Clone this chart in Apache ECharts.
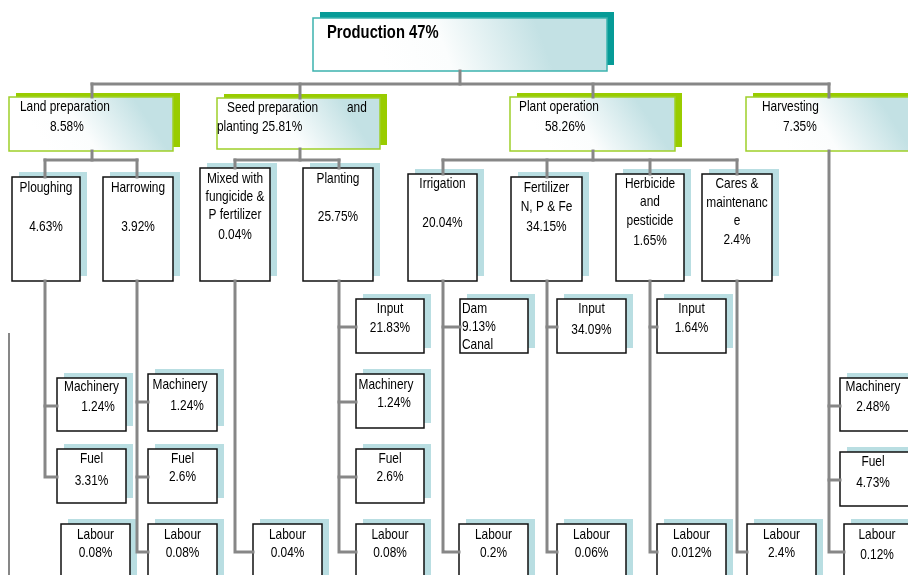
<!DOCTYPE html>
<html>
<head>
<meta charset="utf-8">
<script src="https://cdn.jsdelivr.net/npm/echarts@6/dist/echarts.min.js"></script>
<style>
  html, body { margin: 0; padding: 0; background: #fff; }
  #chart { width: 908px; height: 575px; }
</style>
</head>
<body>
<div id="chart"></div>
<script>
// tree: node ids, their parent, and the text lines shown in each box
const ids = ['prod', 'land', 'seed', 'plant', 'harv',
  'plough', 'harrow', 'mixed', 'planting', 'irrig', 'fert', 'herb', 'cares',
  'mach1', 'fuel1', 'lab1', 'mach2', 'fuel2', 'lab2', 'lab3',
  'input1', 'mach3', 'fuel3', 'lab4', 'dam', 'lab5', 'input2', 'lab6', 'input3', 'lab7', 'lab8',
  'mach4', 'fuel4', 'lab9']
// lab1 is not wired to anything in the original drawing
const parents = [null, 'prod', 'prod', 'prod', 'prod',
  'land', 'land', 'seed', 'seed', 'plant', 'plant', 'plant', 'plant',
  'plough', 'plough', null, 'harrow', 'harrow', 'harrow', 'mixed',
  'planting', 'planting', 'planting', 'planting', 'irrig', 'irrig', 'fert', 'fert', 'herb', 'herb', 'cares',
  'harv', 'harv', 'harv']
const labels = [
  ['Production 47%'],
  ['Land preparation', '8.58%'],
  ['Seed preparation', 'and', 'planting 25.81%'],
  ['Plant operation', '58.26%'],
  ['Harvesting', '7.35%'],
  ['Ploughing', '4.63%'],
  ['Harrowing', '3.92%'],
  ['Mixed with', 'fungicide &', 'P fertilizer', '0.04%'],
  ['Planting', '25.75%'],
  ['Irrigation', '20.04%'],
  ['Fertilizer', 'N, P & Fe', '34.15%'],
  ['Herbicide', 'and', 'pesticide', '1.65%'],
  ['Cares &', 'maintenanc', 'e', '2.4%'],
  ['Machinery', '1.24%'],
  ['Fuel', '3.31%'],
  ['Labour', '0.08%'],
  ['Machinery', '1.24%'],
  ['Fuel', '2.6%'],
  ['Labour', '0.08%'],
  ['Labour', '0.04%'],
  ['Input', '21.83%'],
  ['Machinery', '1.24%'],
  ['Fuel', '2.6%'],
  ['Labour', '0.08%'],
  ['Dam', '9.13%', 'Canal'],
  ['Labour', '0.2%'],
  ['Input', '34.09%'],
  ['Labour', '0.06%'],
  ['Input', '1.64%'],
  ['Labour', '0.012%'],
  ['Labour', '2.4%'],
  ['Machinery', '2.48%'],
  ['Fuel', '4.73%'],
  ['Labour', '0.12%']
]

// layout: box [x, y, w, h], connector x (bx), bar y for top-down links, text line positions
const layout = {
  prod:     { box: [313, 18, 294, 53], kind: 'root', bx: 460, barY: 84, align: 'left', text: [[327, 33]] },
  land:     { box: [9, 97, 164, 54], kind: 'group', bx: 92, barY: 160, align: 'left', text: [[20, 107], [50, 127]] },
  seed:     { box: [217, 98, 163, 51], kind: 'group', bx: 300, barY: 160, align: 'left', text: [[227, 108], [347, 108], [217, 127]] },
  plant:    { box: [510, 97, 165, 54], kind: 'group', bx: 593, barY: 160, align: 'left', text: [[519, 107], [545, 127]] },
  harv:     { box: [746, 97, 175, 54], kind: 'group', bx: 829, align: 'left', text: [[762, 107], [783, 127]] },
  plough:   { box: [12, 177, 68, 104], bx: 45, text: [[null, 188], [null, 227]] },
  harrow:   { box: [103, 177, 70, 104], bx: 137, text: [[null, 188], [null, 227]] },
  mixed:    { box: [200, 168, 70, 113], bx: 235, text: [[null, 179], [null, 197], [null, 215], [null, 235]] },
  planting: { box: [303, 168, 70, 113], bx: 339, text: [[null, 179], [null, 217]] },
  irrig:    { box: [408, 174, 69, 107], bx: 443, text: [[null, 184], [null, 223]] },
  fert:     { box: [511, 177, 71, 104], bx: 547, text: [[null, 188], [null, 207], [null, 227]] },
  herb:     { box: [616, 174, 68, 107], bx: 650, text: [[null, 184], [null, 202], [null, 221], [null, 241]] },
  cares:    { box: [702, 174, 70, 107], bx: 737, text: [[null, 184], [null, 203], [null, 221], [null, 240]] },
  mach1:    { box: [57, 378, 69, 53], text: [[null, 387], [98, 407]] },
  fuel1:    { box: [57, 449, 69, 54], text: [[null, 459], [null, 481]] },
  lab1:     { box: [61, 524, 69, 60], text: [[null, 535], [null, 553]] },
  mach2:    { box: [148, 374, 69, 57], text: [[180, 385], [187, 406]] },
  fuel2:    { box: [148, 449, 69, 54], text: [[null, 459], [null, 477]] },
  lab2:     { box: [148, 524, 69, 60], text: [[null, 535], [null, 553]] },
  lab3:     { box: [253, 524, 69, 60], text: [[null, 535], [null, 553]] },
  input1:   { box: [356, 299, 68, 54], text: [[null, 309], [null, 328]] },
  mach3:    { box: [356, 374, 68, 54], text: [[386, 385], [394, 403]] },
  fuel3:    { box: [356, 449, 68, 54], text: [[null, 459], [null, 477]] },
  lab4:     { box: [356, 524, 68, 60], text: [[null, 535], [null, 553]] },
  dam:      { box: [460, 299, 68, 54], align: 'left', text: [[462, 309], [462, 327], [462, 345]] },
  lab5:     { box: [459, 524, 69, 60], text: [[null, 535], [null, 553]] },
  input2:   { box: [557, 299, 69, 54], text: [[null, 309], [null, 330]] },
  lab6:     { box: [557, 524, 69, 60], text: [[null, 535], [null, 553]] },
  input3:   { box: [657, 299, 69, 54], text: [[null, 309], [null, 328]] },
  lab7:     { box: [657, 524, 69, 60], text: [[null, 535], [null, 553]] },
  lab8:     { box: [747, 524, 69, 60], text: [[null, 535], [null, 553]] },
  mach4:    { box: [840, 378, 74, 53], text: [[873, 387], [873, 407]] },
  fuel4:    { box: [840, 452, 74, 54], text: [[873, 462], [873, 483]] },
  lab9:     { box: [844, 524, 70, 60], text: [[877, 535], [877, 555]] }
}

const boxStyles = {
  root: { shadow: '#069b97', sx: 7, sy: -6, stroke: '#3cb3ae', lw: 1.5, gradient: true },
  group: { shadow: '#99cc00', sx: 7, sy: -4, stroke: '#9fcf2a', lw: 1.5, gradient: true },
  item: { shadow: '#b9dee2', sx: 7, sy: -5, stroke: '#111', lw: 1.5, gradient: false }
}
// narrow look: regular sans squeezed horizontally
const font = '14.5px "Liberation Sans", Arial, sans-serif'
const rootFont = 'bold 18px "Liberation Sans", Arial, sans-serif'
const squeeze = 0.82

// connectors derived from the tree
function buildConnectors() {
  const paths = []
  const kids = {}
  ids.forEach((id, i) => {
    const p = parents[i]
    if (p) (kids[p] = kids[p] || []).push(id)
  })
  Object.keys(kids).forEach(pid => {
    const P = layout[pid]
    const ch = kids[pid].map(c => layout[c])
    const bottom = P.box[1] + P.box[3]
    const leafChildren = ch.every(c => c.bx === undefined)
    if (!leafChildren) {
      const xs = ch.map(c => c.bx).concat(P.bx)
      paths.push([[P.bx, bottom], [P.bx, P.barY]])
      paths.push([[Math.min(...xs), P.barY], [Math.max(...xs), P.barY]])
      ch.forEach(c => paths.push([[c.bx, P.barY], [c.bx, c.box[1]]]))
    } else {
      const ys = ch.map(c => c.box[1] + 28)
      const last = ch[ch.length - 1]
      paths.push([[P.bx, bottom], [P.bx, ys[ys.length - 1]], [last.box[0], ys[ys.length - 1]]])
      ch.slice(0, -1).forEach((c, k) => paths.push([[P.bx, ys[k]], [c.box[0], ys[k]]]))
    }
  })
  return paths
}

function renderBox(params, api) {
  const i = api.value(2)
  const L = layout[ids[i]]
  const [x, y, w, h] = L.box
  const st = boxStyles[L.kind || 'item']
  const p = api.coord([x, y])
  const s = api.size([w, h])
  const fill = st.gradient
    ? new echarts.graphic.LinearGradient(0.25, 1, 0.75, 0, [
        { offset: 0, color: '#ffffff' },
        { offset: 0.4, color: '#fbfdfd' },
        { offset: 1, color: '#c3e1e4' }
      ])
    : '#ffffff'
  const children = [
    { type: 'rect', shape: { x: p[0] + st.sx, y: p[1] + st.sy, width: s[0], height: s[1] }, style: { fill: st.shadow } },
    { type: 'rect', shape: { x: p[0], y: p[1], width: s[0], height: s[1] }, style: { fill: fill, stroke: st.stroke, lineWidth: st.lw } }
  ]
  labels[i].forEach((t, k) => {
    const pos = L.text[k]
    const c = api.coord([pos[0] == null ? x + w / 2 : pos[0], pos[1]])
    children.push({
      type: 'text', x: c[0], y: c[1], scaleX: squeeze,
      style: {
        text: t, font: L.kind === 'root' ? rootFont : font, fill: '#000',
        align: L.align || 'center', verticalAlign: 'middle'
      }
    })
  })
  return { type: 'group', children }
}

const chart = echarts.init(document.getElementById('chart'))
const connectors = buildConnectors()
// the loose line at the far left of the original
const strayLines = [[[9, 333], [9, 575]]]

chart.setOption({
  animation: false,
  grid: { left: 0, right: 0, top: 0, bottom: 0 },
  xAxis: { type: 'value', min: 0, max: 908, show: false },
  yAxis: { type: 'value', min: 0, max: 575, inverse: true, show: false },
  series: [
    {
      type: 'custom',
      clip: false,
      renderItem: renderBox,
      encode: { x: 0, y: 1 },
      data: ids.map((id, i) => [layout[id].box[0], layout[id].box[1], i]),
      z: 2
    },
    {
      type: 'lines',
      coordinateSystem: 'cartesian2d',
      polyline: true,
      silent: true,
      lineStyle: { color: '#878787', width: 3, opacity: 1, cap: 'square', join: 'miter' },
      data: connectors.map(c => ({ coords: c })),
      z: 3
    },
    {
      type: 'lines',
      coordinateSystem: 'cartesian2d',
      polyline: true,
      silent: true,
      lineStyle: { color: '#878787', width: 2, opacity: 1 },
      data: strayLines.map(c => ({ coords: c })),
      z: 3
    }
  ]
})
window.addEventListener('resize', () => chart.resize())
</script>
</body>
</html>
